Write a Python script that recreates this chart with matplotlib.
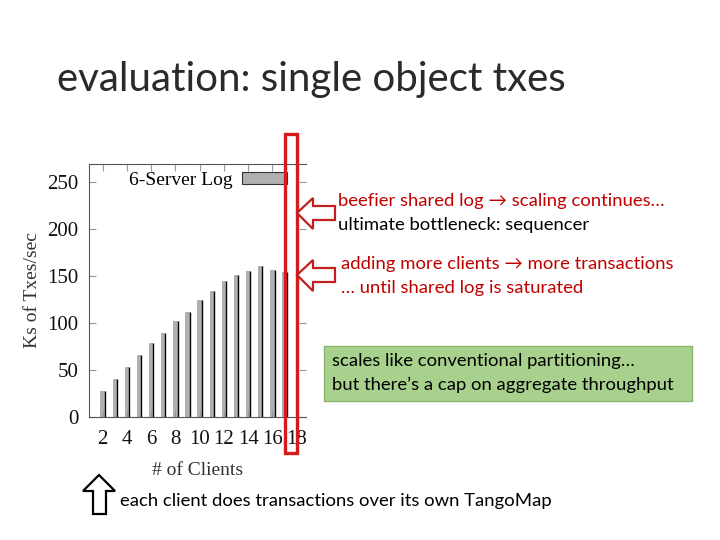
import matplotlib
matplotlib.use("Agg")
import matplotlib.pyplot as plt
from matplotlib.patches import Polygon, Rectangle

clients = [2, 3, 4, 5, 6, 7, 8, 9, 10, 11, 12, 13, 14, 15, 16, 17]
txes = [27, 40, 53, 66, 79, 89, 102, 112, 124, 134, 145, 151, 155, 161, 156, 154]
xticks = [2, 4, 6, 8, 10, 12, 14, 16, 18]
yticks = [0, 50, 100, 150, 200, 250]

SANS = ["Lato", "DejaVu Sans"]
SERIF = "Liberation Serif"
RED = "#c00000"
TXT = 13.3

fig = plt.figure(figsize=(7.2, 5.4), dpi=100)
fig.patch.set_facecolor("white")

# the gnuplot chart, cut off on the right like on the slide
ax = fig.add_axes([89.3 / 720, 1 - 416.7 / 540, (306 - 89.3) / 720, (416.7 - 164) / 540])
ax.bar(clients, txes, width=0.36, color="#b0b0b0", linewidth=0, label="6-Server Log")
ax.vlines([c + 0.18 for c in clients], 0, txes, color="black", linewidth=1.0)
ax.set_xlim(0.9, 18.77)
ax.set_ylim(0, 269.5)
ax.set_xticks(xticks)
ax.set_yticks(yticks)
ax.tick_params(direction="in", length=5, color="#999999", top=True, right=True,
               labelsize=15, pad=8)
ax.tick_params(axis="x", pad=9.5)
for lab in ax.get_xticklabels() + ax.get_yticklabels():
    lab.set_fontfamily(SERIF)
    lab.set_color("#111111")
for s in ["left", "top", "bottom"]:
    ax.spines[s].set_color("#555555")
    ax.spines[s].set_linewidth(0.8)
ax.spines["right"].set_visible(False)
ax.set_xlabel("# of Clients", fontfamily=SERIF, fontsize=14, color="#333333")
ax.set_ylabel("Ks of Txes/sec", fontfamily=SERIF, fontsize=14, color="#333333")
ax.xaxis.set_label_coords(0.5, -0.18)
ax.yaxis.set_label_coords(-0.223, 0.5)
leg = ax.legend(loc="center right", frameon=False, prop={"family": SERIF, "size": 14},
                markerfirst=False, handlelength=2.3, handleheight=0.57, handletextpad=0.5,
                bbox_to_anchor=(0.912, 0.935), borderpad=0, borderaxespad=0)
for h in leg.legend_handles:
    h.set_edgecolor("#333333")
    h.set_linewidth(0.8)

# slide overlay in pixel coordinates
ov = fig.add_axes([0, 0, 1, 1], zorder=5)
ov.set_xlim(0, 720)
ov.set_ylim(540, 0)
ov.axis("off")
ov.patch.set_alpha(0)

ov.text(57, 80, "evaluation: single object txes", fontsize=29, family=SANS,
        va="center", ha="left", color="#2a2a2a")

ov.add_patch(Rectangle((284.5, 133.5), 12, 319, fill=False, edgecolor="#d41c1c", linewidth=2.4))


def left_arrow(ty):
    pts = [(297, ty), (313, ty - 15), (313, ty - 7), (335, ty - 7),
           (335, ty + 7), (313, ty + 7), (313, ty + 16)]
    ov.add_patch(Polygon(pts, closed=True, facecolor="white", edgecolor="#c02020", linewidth=1.6))


left_arrow(213)
left_arrow(275)

ov.text(338, 201, "beefier shared log \u2192 scaling continues\u2026", fontsize=TXT,
        family=SANS, color=RED, va="center")
ov.text(338, 225, "ultimate bottleneck: sequencer", fontsize=TXT, family=SANS,
        color="black", va="center")
ov.text(341, 264, "adding more clients \u2192 more transactions", fontsize=TXT,
        family=SANS, color=RED, va="center")
ov.text(341, 288, "\u2026 until shared log is saturated", fontsize=TXT, family=SANS,
        color=RED, va="center")

ov.add_patch(Rectangle((324, 345.5), 368, 55, facecolor="#a9d18e", edgecolor="#8cb56e",
                       linewidth=1.0))
ov.text(332, 361, "scales like conventional partitioning\u2026", fontsize=TXT,
        family=SANS, color="black", va="center")
ov.text(332, 385, "but there\u2019s a cap on aggregate throughput", fontsize=TXT,
        family=SANS, color="black", va="center")

up = [(99, 475), (115, 491), (106, 491), (106, 514), (93, 514), (93, 491), (83, 491)]
ov.add_patch(Polygon(up, closed=True, facecolor="white", edgecolor="black", linewidth=1.6))
ov.text(120, 501, "each client does transactions over its own TangoMap", fontsize=TXT,
        family=SANS, color="black", va="center")

fig.savefig("out.png", dpi=100)
